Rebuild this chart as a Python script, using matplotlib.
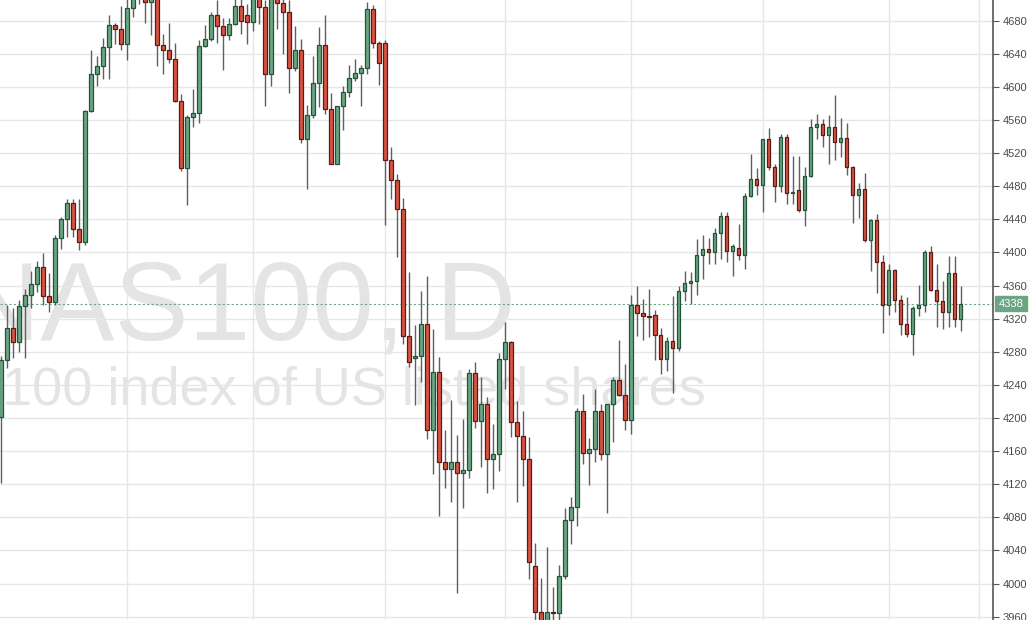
import matplotlib

matplotlib.use("Agg")
import matplotlib.pyplot as plt
from matplotlib.patches import FancyBboxPatch

FIGURE_SIZE = (10.3, 6.2)
DPI = 100

THEME = {
    "bg": "#FFFFFF",
    "grid": "#E6E6E6",
    "up": "#6BA583",
    "up_edge": "#225437",
    "down": "#D75442",
    "down_edge": "#5B1A13",
    "wick": "#5F5F61",
    "axis": "#555555",
    "tick_text": "#4A4A4A",
    "watermark": "#E4E4E4",
}

# daily OHLC, oldest first
OPENS = [
    4201, 4270, 4309, 4292, 4335, 4349, 4362, 4383, 4348, 4340,
    4418, 4441, 4460, 4428, 4413, 4571, 4616, 4625, 4648, 4675,
    4670, 4652, 4695, 4708, 4715, 4703, 4707, 4651, 4644, 4634,
    4583, 4502, 4564, 4569, 4650, 4658, 4687, 4674, 4663, 4676,
    4698, 4687, 4679, 4712, 4696, 4615, 4712, 4701, 4690, 4623,
    4645, 4537, 4566, 4605, 4651, 4573, 4507, 4577, 4594, 4611,
    4617, 4623, 4694, 4653, 4653, 4512, 4487, 4453, 4299, 4272,
    4275, 4313, 4185, 4255, 4147, 4138, 4147, 4134, 4137, 4254,
    4196, 4217, 4150, 4156, 4271, 4292, 4195, 4178, 4150, 4021,
    3966, 3955, 3966, 3965, 4009, 4077, 4092, 4209, 4158, 4162,
    4208, 4156, 4217, 4246, 4228, 4198, 4337, 4327, 4323, 4325,
    4300, 4271, 4293, 4285, 4353, 4363, 4365, 4397, 4404, 4401,
    4423, 4444, 4402, 4405, 4397, 4468, 4489, 4482, 4537, 4503,
    4480, 4539, 4472, 4475, 4451, 4492, 4552, 4555, 4542, 4552,
    4533, 4538, 4503, 4470, 4477, 4415, 4439, 4388, 4337, 4379,
    4343, 4313, 4301, 4333, 4337, 4400, 4355, 4341, 4328, 4375,
    4320,
]
HIGHS = [
    4275, 4337, 4333, 4342, 4356, 4378, 4390, 4399, 4375, 4421,
    4443, 4464, 4464, 4464, 4572, 4645, 4637, 4659, 4687, 4677,
    4698, 4710, 4715, 4725, 4720, 4712, 4712, 4664, 4677, 4653,
    4591, 4566, 4597, 4657, 4675, 4691, 4705, 4683, 4683, 4706,
    4706, 4700, 4715, 4720, 4705, 4720, 4716, 4706, 4705, 4674,
    4658, 4578, 4637, 4672, 4687, 4593, 4577, 4601, 4626, 4634,
    4626, 4702, 4699, 4656, 4657, 4528, 4495, 4466, 4376, 4312,
    4353, 4372, 4308, 4274, 4186, 4222, 4179, 4199, 4259, 4268,
    4250, 4225, 4193, 4278, 4316, 4293, 4220, 4208, 4177, 4049,
    4007, 4044, 3996, 4022, 4091, 4104, 4212, 4229, 4176, 4235,
    4217, 4217, 4250, 4294, 4265, 4349, 4359, 4344, 4356, 4330,
    4309, 4298, 4348, 4360, 4378, 4376, 4416, 4421, 4418, 4429,
    4449, 4449, 4410, 4434, 4472, 4519, 4502, 4537, 4550, 4507,
    4543, 4543, 4516, 4516, 4503, 4561, 4567, 4561, 4566, 4590,
    4562, 4557, 4505, 4484, 4496, 4440, 4447, 4397, 4386, 4380,
    4349, 4346, 4335, 4361, 4403, 4408, 4386, 4365, 4396, 4396,
    4360,
]
LOWS = [
    4122, 4261, 4273, 4280, 4273, 4333, 4352, 4337, 4328, 4337,
    4404, 4419, 4419, 4403, 4409, 4570, 4601, 4609, 4609, 4652,
    4644, 4633, 4685, 4700, 4677, 4663, 4625, 4615, 4629, 4582,
    4499, 4457, 4552, 4557, 4648, 4655, 4653, 4620, 4657, 4675,
    4664, 4652, 4667, 4676, 4577, 4601, 4670, 4640, 4593, 4619,
    4532, 4477, 4563, 4576, 4567, 4507, 4507, 4548, 4588, 4607,
    4577, 4616, 4647, 4602, 4433, 4464, 4395, 4290, 4262, 4216,
    4244, 4175, 4132, 4082, 4115, 4099, 3989, 4091, 4127, 4188,
    4141, 4109, 4114, 4136, 4235, 4177, 4099, 4118, 4006, 3950,
    3945, 3945, 3945, 3950, 4005, 4048, 4069, 4145, 4119, 4147,
    4149, 4085, 4171, 4227, 4185, 4181, 4299, 4294, 4298, 4270,
    4253, 4257, 4230, 4281, 4341, 4338, 4349, 4368, 4386, 4386,
    4392, 4389, 4372, 4391, 4380, 4467, 4470, 4449, 4500, 4461,
    4473, 4458, 4459, 4449, 4432, 4491, 4537, 4527, 4507, 4512,
    4515, 4494, 4436, 4442, 4413, 4378, 4351, 4303, 4324, 4328,
    4300, 4298, 4276, 4323, 4328, 4354, 4310, 4308, 4310, 4310,
    4305,
]
CLOSES = [
    4270, 4309, 4292, 4335, 4349, 4362, 4383, 4348, 4340, 4418,
    4441, 4460, 4428, 4413, 4571, 4616, 4625, 4648, 4675, 4670,
    4652, 4695, 4708, 4715, 4703, 4707, 4651, 4644, 4634, 4583,
    4502, 4564, 4569, 4650, 4658, 4687, 4674, 4663, 4676, 4698,
    4680, 4679, 4712, 4696, 4615, 4712, 4701, 4690, 4623, 4645,
    4537, 4566, 4605, 4651, 4573, 4507, 4577, 4594, 4611, 4617,
    4623, 4694, 4653, 4629, 4512, 4487, 4453, 4299, 4268, 4275,
    4313, 4185, 4255, 4147, 4138, 4147, 4134, 4137, 4254, 4196,
    4217, 4150, 4156, 4271, 4292, 4195, 4178, 4150, 4026, 3966,
    3955, 3966, 3965, 4009, 4077, 4092, 4209, 4158, 4162, 4208,
    4156, 4217, 4246, 4228, 4198, 4337, 4327, 4323, 4322, 4300,
    4271, 4293, 4285, 4353, 4363, 4365, 4397, 4404, 4401, 4423,
    4444, 4402, 4408, 4397, 4468, 4489, 4482, 4537, 4503, 4480,
    4539, 4472, 4473, 4451, 4492, 4552, 4555, 4542, 4552, 4533,
    4538, 4503, 4470, 4477, 4415, 4439, 4388, 4337, 4379, 4343,
    4313, 4301, 4333, 4337, 4400, 4355, 4341, 4328, 4375, 4320,
    4338,
]

PRICE_TICKS = list(range(3960, 4681, 40))
MONTH_LINES = [21, 42, 64, 84, 105, 127, 148, 163]
LAST_PRICE = CLOSES[-1]
WATERMARK_TITLE = "NAS100, D"
WATERMARK_SUBTITLE = "100 index of US listed shares"


def draw_candles(ax) -> None:
    for i, (o, h, l, c) in enumerate(zip(OPENS, HIGHS, LOWS, CLOSES)):
        up = c >= o
        face = THEME["up"] if up else THEME["down"]
        edge = THEME["up_edge"] if up else THEME["down_edge"]
        ax.vlines(i, l, h, color=THEME["wick"], linewidth=1.0, zorder=3)
        body = max(abs(c - o), 1.2)
        ax.bar(
            i,
            body,
            bottom=min(o, c),
            width=0.62,
            color=face,
            edgecolor=edge,
            linewidth=0.9,
            zorder=4,
        )


def draw_watermark(ax) -> None:
    ax.text(
        -0.04,
        0.452,
        WATERMARK_TITLE,
        transform=ax.transAxes,
        fontsize=80,
        family="Liberation Sans",
        color=THEME["watermark"],
        ha="left",
        va="baseline",
        zorder=1,
        clip_on=True,
    )
    ax.text(
        0.002,
        0.347,
        WATERMARK_SUBTITLE,
        transform=ax.transAxes,
        fontsize=39,
        family="Liberation Sans",
        color=THEME["watermark"],
        ha="left",
        va="baseline",
        zorder=1,
        clip_on=True,
    )


def style_axes(ax) -> None:
    ax.set_facecolor(THEME["bg"])
    ax.set_xlim(-0.12, 165.4)
    ax.set_ylim(3956, 4705)
    ax.set_yticks(PRICE_TICKS)
    ax.set_xticks(MONTH_LINES)
    ax.grid(True, color=THEME["grid"], linewidth=1.0, zorder=0)
    ax.yaxis.tick_right()
    ax.tick_params(
        axis="y",
        direction="out",
        length=4,
        width=0.8,
        colors=THEME["axis"],
        labelcolor=THEME["tick_text"],
        labelsize=8,
        pad=3,
    )
    ax.tick_params(axis="x", length=0, labelbottom=False)
    for label in ax.get_yticklabels():
        label.set_family("Liberation Sans")
    for name in ("top", "left", "bottom"):
        ax.spines[name].set_visible(False)
    ax.spines["right"].set_color(THEME["axis"])
    ax.spines["right"].set_linewidth(1.2)


def draw_last_price(fig, ax) -> None:
    ax.axhline(
        LAST_PRICE,
        color=THEME["up"],
        linewidth=0.8,
        linestyle=(0, (2, 2)),
        zorder=2,
    )
    # label box sitting on the right axis
    y_fig = ax.transData.transform((0, LAST_PRICE))[1] / fig.bbox.height
    x0 = 995 / 1030
    box = FancyBboxPatch(
        (x0, y_fig - 0.012),
        32 / 1030,
        0.024,
        boxstyle="square,pad=0",
        transform=fig.transFigure,
        facecolor=THEME["up"],
        edgecolor=THEME["up"],
        zorder=10,
    )
    fig.patches.append(box)
    fig.text(
        x0 + 16 / 1030,
        y_fig,
        str(LAST_PRICE),
        color="white",
        fontsize=8,
        family="Liberation Sans",
        ha="center",
        va="center",
        zorder=11,
    )


def render() -> None:
    fig = plt.figure(figsize=FIGURE_SIZE, dpi=DPI)
    fig.patch.set_facecolor(THEME["bg"])
    ax = fig.add_axes([0, 0, 993 / 1030, 1])
    style_axes(ax)
    draw_watermark(ax)
    draw_candles(ax)
    draw_last_price(fig, ax)
    fig.savefig("out.png", dpi=DPI, facecolor=fig.get_facecolor())
    plt.close(fig)


if __name__ == "__main__":
    render()
